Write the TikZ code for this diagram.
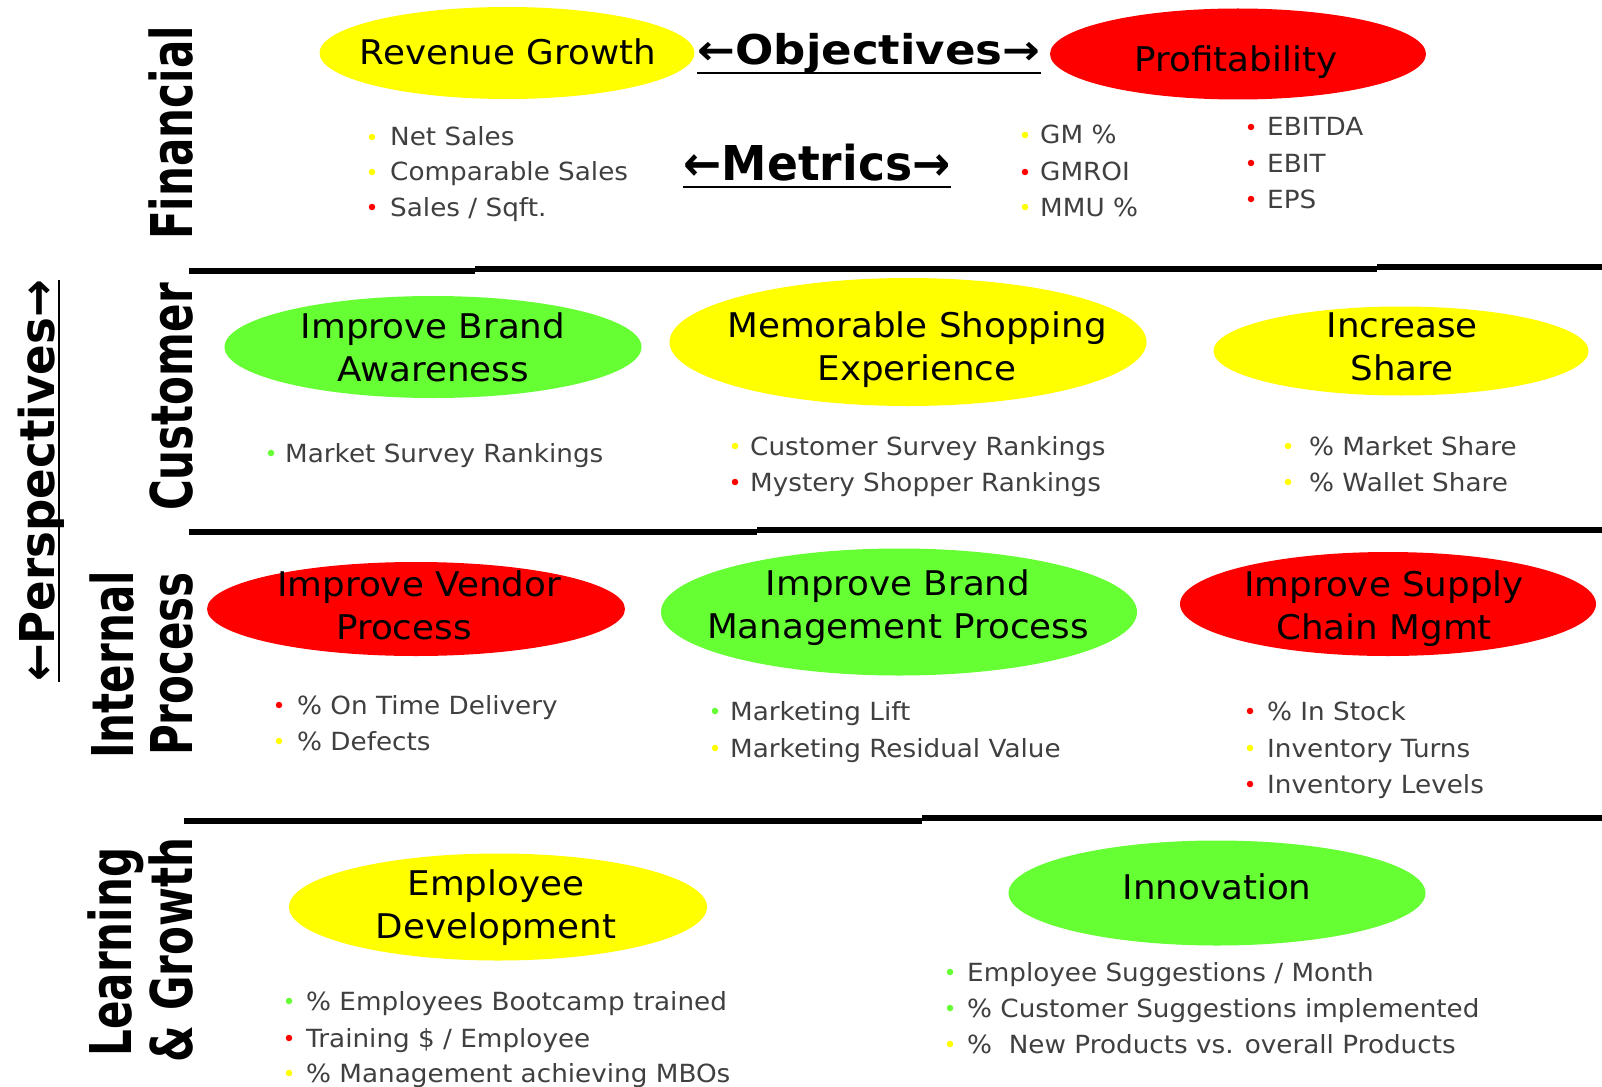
\documentclass[tikz,border=0pt]{standalone}
\usepackage{fontspec}
\setmainfont{DejaVu Sans}
\newfontfamily\ovalfont[FakeStretch=1.05]{DejaVu Sans}
\newfontfamily\metricfont[FakeStretch=1.05]{DejaVu Sans}
\newfontfamily\catfont[FakeStretch=0.73]{DejaVu Sans}
\newfontfamily\perspfont[FakeStretch=0.94]{DejaVu Sans}
\newfontfamily\objfont[FakeStretch=1.1]{DejaVu Sans}
\newfontfamily\metfont[FakeStretch=0.95]{DejaVu Sans}
\usetikzlibrary{shapes.geometric,calc}
\definecolor{ovYellow}{HTML}{FFFF00}
\definecolor{ovRed}{HTML}{FF0000}
\definecolor{ovGreen}{HTML}{66FF33}

% one metric line: name, bullet x, text x, centre y, bullet colour, text
\newcommand\metricitem[6]{%
  \node[dotmark, fill=#5] (#1-b) at (#2,#4) {};
  \node[metric] (#1) at (#3,#4+9) {#6};
}

\begin{document}
\begin{tikzpicture}[x=1pt,y=-1pt,
  oval/.style={ellipse, inner sep=0pt, draw=none},
  ovaltext/.style={font={\ovalfont\fontsize{34}{43}\selectfont}, align=center, inner sep=0pt},
  metric/.style={font={\metricfont\fontsize{25}{30}\selectfont}, text=black!75, anchor=base west, inner sep=0pt},
  dotmark/.style={circle, minimum size=6.5pt, inner sep=0pt, draw=none},
  cat/.style={font={\catfont\bfseries\fontsize{57.6}{60}\selectfont}, rotate=90, anchor=base, inner sep=0pt},
  divider/.style={line width=6pt},
  uline/.style={line width=2pt}
]
\useasboundingbox[fill=white] (0,0) rectangle (1602,1086);

% ---------- section dividers ----------
\draw[divider] (189,271) -- (475,271);
\draw[divider] (475,269) -- (1377,269);
\draw[divider] (1377,267) -- (1602,267);
\draw[divider] (189,532) -- (757,532);
\draw[divider] (757,530) -- (1602,530);
\draw[divider] (184,821) -- (922,821);
\draw[divider] (922,818) -- (1602,818);

% ---------- perspective labels ----------
\node[cat] (fin) at (192,133) {Financial};
\node[cat] (cust) at (192,397) {Customer};
\node[cat] (int) at (133,665) {Internal};
\node[cat] (proc) at (192,664) {Process};
\node[cat] (learn) at (131,952) {Learning};
\node[cat] (grow) at (192,950) {\& Growth};

\node[font={\perspfont\bfseries\fontsize{48}{50}\selectfont}, rotate=90, anchor=base, inner sep=0pt]
  (persp) at (54,481) {←Perspectives→};
\draw[uline] ($(persp.base west)+(5,0)$) -- ($(persp.base east)+(5,0)$);

% ---------- headings ----------
\node[font={\objfont\bfseries\fontsize{41}{45}\selectfont}, anchor=base, inner sep=0pt]
  (obj) at (869,65) {←Objectives→};
\draw[uline] ($(obj.base west)+(0,8)$) -- ($(obj.base east)+(0,8)$);
\node[font={\metfont\bfseries\fontsize{48}{50}\selectfont}, anchor=base, inner sep=0pt]
  (met) at (817,180) {←Metrics→};
\draw[uline] ($(met.base west)+(0,7)$) -- ($(met.base east)+(0,7)$);

% ---------- objectives ----------
\node[oval, fill=ovYellow, minimum width=375pt, minimum height=92pt] (revg) at (507,53) {};
\node[ovaltext] (revg-t) at (508,52) {Revenue Growth};
\node[oval, fill=ovRed, minimum width=376pt, minimum height=91pt] (prof) at (1238,54) {};
\node[ovaltext] (prof-t) at (1236,62) {Profitability};

\node[oval, fill=ovGreen, minimum width=417pt, minimum height=102pt] (iba) at (433,347) {};
\node[ovaltext] (iba-t) at (433,347) {Improve Brand\\Awareness};
\node[oval, fill=ovYellow, minimum width=477pt, minimum height=128pt] (mse) at (908,342) {};
\node[ovaltext] (mse-t) at (917,350) {Memorable Shopping\\Experience};
\node[oval, fill=ovYellow, minimum width=375pt, minimum height=89pt] (isr) at (1401,351) {};
\node[ovaltext] (isr-t) at (1402,347) {Increase\\Share};

\node[oval, fill=ovRed, minimum width=418pt, minimum height=94pt] (ivp) at (416,609) {};
\node[ovaltext] (ivp-t) at (419,605) {Improve Vendor\\Process\kern30pt};
\node[oval, fill=ovGreen, minimum width=476pt, minimum height=127pt] (ibm) at (899,612) {};
\node[ovaltext] (ibm-t) at (898,608) {Improve Brand\\Management Process};
\node[oval, fill=ovRed, minimum width=416pt, minimum height=104pt] (isc) at (1388,604) {};
\node[ovaltext] (isc-t) at (1384,609) {Improve Supply\\Chain Mgmt};

\node[oval, fill=ovYellow, minimum width=418pt, minimum height=107pt] (emp) at (498,907) {};
\node[ovaltext] (emp-t) at (496,908) {Employee\\Development};
\node[oval, fill=ovGreen, minimum width=417pt, minimum height=105pt] (inn) at (1217,893) {};
\node[ovaltext] (inn-t) at (1217,887) {Innovation};

% ---------- metrics: financial ----------
\metricitem{m-ns}{372}{390}{137}{ovYellow}{Net Sales}
\metricitem{m-cs}{372}{390}{172}{ovYellow}{Comparable Sales}
\metricitem{m-ss}{372}{390}{207}{ovRed}{Sales / Sqft.}
\metricitem{m-gm}{1025}{1040}{135}{ovYellow}{GM \%}
\metricitem{m-gr}{1025}{1040}{172}{ovRed}{GMROI}
\metricitem{m-mm}{1025}{1040}{207}{ovYellow}{MMU \%}
\metricitem{m-ed}{1251}{1267}{127}{ovRed}{EBITDA}
\metricitem{m-eb}{1251}{1267}{163}{ovRed}{EBIT}
\metricitem{m-ep}{1251}{1267}{199}{ovRed}{EPS}

% ---------- metrics: customer ----------
\metricitem{m-msr}{271}{285}{453}{ovGreen}{Market Survey Rankings}
\metricitem{m-csr}{735}{750}{446}{ovYellow}{Customer Survey Rankings}
\metricitem{m-msh}{735}{750}{482}{ovRed}{Mystery Shopper Rankings}
\metricitem{m-mks}{1288}{1309}{446}{ovYellow}{\% Market Share}
\metricitem{m-wls}{1288}{1309}{482}{ovYellow}{\% Wallet Share}

% ---------- metrics: internal process ----------
\metricitem{m-otd}{279}{297}{705}{ovRed}{\% On Time Delivery}
\metricitem{m-def}{279}{297}{741}{ovYellow}{\% Defects}
\metricitem{m-mlf}{715}{730}{711}{ovGreen}{Marketing Lift}
\metricitem{m-mrv}{715}{730}{748}{ovYellow}{Marketing Residual Value}
\metricitem{m-ist}{1250}{1267}{711}{ovRed}{\% In Stock}
\metricitem{m-itu}{1250}{1267}{748}{ovYellow}{Inventory Turns}
\metricitem{m-ilv}{1250}{1267}{784}{ovRed}{Inventory Levels}

% ---------- metrics: learning & growth ----------
\metricitem{m-ebt}{289}{306}{1001}{ovGreen}{\% Employees Bootcamp trained}
\metricitem{m-tre}{289}{306}{1038}{ovRed}{Training \$ / Employee}
\metricitem{m-mbo}{289}{306}{1073}{ovYellow}{\% Management achieving MBOs}
\metricitem{m-esm}{950}{967}{972}{ovGreen}{Employee Suggestions / Month}
\metricitem{m-csi}{950}{967}{1008}{ovGreen}{\% Customer Suggestions implemented}
\metricitem{m-npr}{950}{967}{1044}{ovYellow}{\%\ \ New Products vs. overall Products}
\end{tikzpicture}
\end{document}
